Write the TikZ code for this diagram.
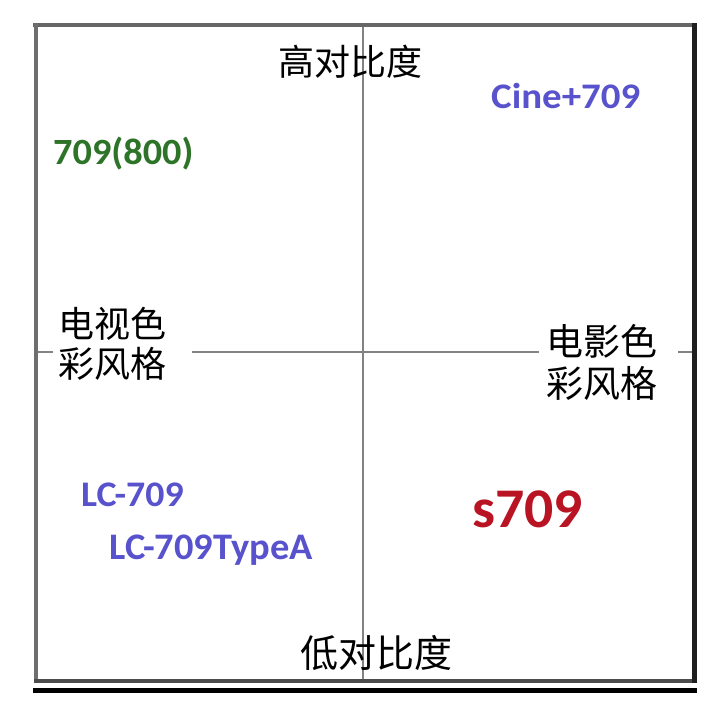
\documentclass[tikz,border=0pt]{standalone}
\usepackage{fontspec}
\newfontfamily\cjk{Noto Sans CJK SC}
\newfontfamily\lat{Carlito}
\definecolor{lblue}{RGB}{88,82,204}
\definecolor{lgreen}{RGB}{45,115,40}
\definecolor{lred}{RGB}{185,20,35}
\definecolor{axisgray}{RGB}{130,130,130}
\begin{document}
\begin{tikzpicture}[x=1pt,y=-1pt,
  cjklabel/.style={inner sep=0pt, anchor=base west, font=\cjk\fontsize{36}{40}\selectfont},
  latlabel/.style={inner sep=0pt, anchor=base west, font=\lat\bfseries\fontsize{36}{40}\selectfont},
  axisline/.style={draw=axisgray, line width=1.8pt}]
\useasboundingbox (0,0) rectangle (727,723);
\fill[white] (0,0) rectangle (727,723);
% axes
\draw[axisline] (363,25) -- (363,681);
\draw[axisline] (37,352) -- (53,352);
\draw[axisline] (192,352) -- (539,352);
\draw[axisline] (678,352) -- (693,352);
% frame
\draw[line width=4pt, draw=black!60] (33,25) -- (694,25);
\draw[line width=4pt, draw=black!57] (35.5,23) -- (35.5,683);
\draw[line width=4pt, draw=black!70] (34,681) -- (694,681);
\draw[line width=5pt, draw=black!88] (694.5,23) -- (694.5,683);
\draw[line width=5pt, draw=black] (33,690.5) -- (697,690.5);
% labels
\node[cjklabel] (hi) at (278,75) {高对比度};
\node[cjklabel, font=\cjk\fontsize{38}{40}\selectfont] (lo) at (300,667) {低对比度};
\node[cjklabel] (tvA) at (58,337) {电视色};
\node[cjklabel] (tvB) at (58,377) {彩风格};
\node[cjklabel, font=\cjk\fontsize{37}{40}\selectfont] (cnA) at (546,355) {电影色};
\node[cjklabel, font=\cjk\fontsize{37}{40}\selectfont] (cnB) at (546,397) {彩风格};
\node[latlabel, text=lblue, xscale=1.08] (cine) at (491,108) {Cine+709};
\node[latlabel, text=lgreen, xscale=1.035, font=\lat\bfseries\fontsize{37}{40}\selectfont] (tv800) at (53,164) {709(800)};
\node[latlabel, text=lblue, xscale=1.05] (lc) at (81,506) {LC-709};
\node[latlabel, text=lblue, xscale=1.025, font=\lat\bfseries\fontsize{37.5}{40}\selectfont] (lca) at (109,559) {LC-709TypeA};
\node[latlabel, text=lred, xscale=1.03, font=\lat\bfseries\fontsize{56}{60}\selectfont] (s) at (472,527) {s709};
\end{tikzpicture}
\end{document}
